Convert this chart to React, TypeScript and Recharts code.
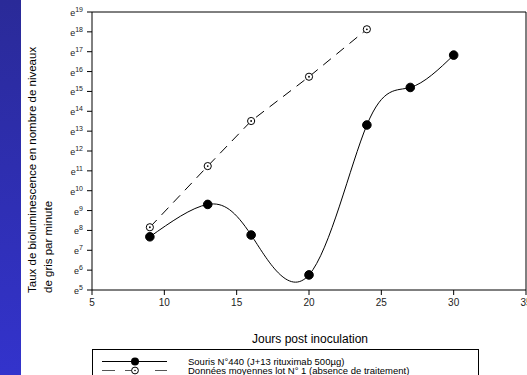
import React from 'react';
import {
  LineChart,
  Line,
  XAxis,
  YAxis,
  ReferenceLine,
} from 'recharts';

// days post inoculation
const days440 = [9, 13, 16, 20, 24, 27, 30];
// ln of bioluminescence rate (e^n)
const souris440 = [7.68, 9.31, 7.77, 5.76, 13.31, 15.2, 16.83];

const daysLot1 = [9, 13, 16, 20, 24];
const lot1 = [8.16, 11.24, 13.51, 15.74, 18.13];

const xTicks = [5, 10, 15, 20, 25, 30, 35];
const yTicks = [5, 6, 7, 8, 9, 10, 11, 12, 13, 14, 15, 16, 17, 18, 19];

const seriesNames = [
  'Souris N°440 (J+13 rituximab 500µg)',
  'Données moyennes lot N° 1 (absence de traitement)',
];

const FONT = '"Liberation Sans", Arial, sans-serif';

const ExpTick = (props: any) => {
  const { x, y, payload } = props;
  return (
    <text x={x} y={y} dy={4} textAnchor="end" fontFamily={FONT} fontSize={9} fill="#222">
      <tspan>e</tspan>
      <tspan dy={-4} fontSize={7}>{payload.value}</tspan>
    </text>
  );
};

const OpenDot = (props: any) => {
  const { cx, cy } = props;
  if (cx == null || cy == null) return null;
  return (
    <g>
      <circle cx={cx} cy={cy} r={3.6} fill="#fff" stroke="#000" strokeWidth={1} />
      <circle cx={cx} cy={cy} r={0.9} fill="#000" />
    </g>
  );
};

export default function App() {
  const data1 = days440.map((d, i) => ({ day: d, v: souris440[i] }));
  const data2 = daysLot1.map((d, i) => ({ day: d, v: lot1[i] }));

  return (
    <div
      style={{
        position: 'absolute',
        left: 0,
        top: 0,
        width: 527,
        height: 375,
        background: '#fff',
        overflow: 'hidden',
        fontFamily: FONT,
      }}
    >
      {/* blue slide strip */}
      <div
        style={{
          position: 'absolute',
          left: 0,
          top: 0,
          width: 21,
          height: 375,
          background: 'linear-gradient(to bottom, #2a2a98, #3333cc)',
        }}
      />
      {/* y axis title */}
      <svg width={70} height={375} style={{ position: 'absolute', left: 0, top: 0 }}>
        <text
          transform="translate(36,293) rotate(-90)"
          fontFamily={FONT}
          fontSize={11.5}
          fill="#000"
        >
          Taux de bioluminescence en nombre de niveaux
        </text>
        <text
          transform="translate(52,293) rotate(-90)"
          fontFamily={FONT}
          fontSize={11.5}
          fill="#000"
        >
          de gris par minute
        </text>
      </svg>

      <div style={{ position: 'absolute', left: 0, top: 0 }}>
        <LineChart
          width={545}
          height={375}
          margin={{ top: 12, right: 19, bottom: 55, left: 0 }}
        >
          <XAxis
            dataKey="day"
            type="number"
            domain={[5, 35]}
            ticks={xTicks}
            allowDataOverflow
            height={30}
            stroke="#000"
            tickSize={5}
            tickMargin={4}
            interval={0}
            tick={{ fontSize: 10, fill: '#222', fontFamily: FONT }}
            allowDuplicatedCategory={false}
          />
          <YAxis
            type="number"
            domain={[5, 19]}
            ticks={yTicks}
            width={92}
            stroke="#000"
            tickSize={5}
            tickMargin={4}
            tick={<ExpTick />}
            interval={0}
          />
          <ReferenceLine y={19} stroke="#000" strokeWidth={1} />
          <ReferenceLine x={35} stroke="#000" strokeWidth={1} />
          <Line
            data={data2}
            dataKey="v"
            type="linear"
            stroke="#000"
            strokeWidth={1}
            strokeDasharray="10 7"
            dot={<OpenDot />}
            isAnimationActive={false}
          />
          <Line
            data={data1}
            dataKey="v"
            type="natural"
            stroke="#000"
            strokeWidth={1}
            dot={{ r: 4.3, fill: '#000', stroke: '#000' }}
            isAnimationActive={false}
          />
        </LineChart>
      </div>

      {/* x axis title */}
      <div
        style={{
          position: 'absolute',
          left: 210,
          width: 200,
          top: 332,
          textAlign: 'center',
          fontSize: 12,
          color: '#000',
        }}
      >
        Jours post inoculation
      </div>

      {/* legend */}
      <svg width={527} height={375} style={{ position: 'absolute', left: 0, top: 0 }}>
        <rect x={92.5} y={349.5} width={386} height={40} fill="none" stroke="#000" strokeWidth={1} />
        <line x1={102} y1={361.5} x2={167} y2={361.5} stroke="#000" strokeWidth={1} />
        <circle cx={135} cy={361.5} r={4} fill="#000" />
        <line x1={102} y1={370.5} x2={167} y2={370.5} stroke="#555" strokeWidth={1} strokeDasharray="13 10 10 20 12" />
        <circle cx={135} cy={370.5} r={3.4} fill="#fff" stroke="#000" strokeWidth={1} />
        <circle cx={135} cy={370.5} r={0.8} fill="#000" />
        <text x={188} y={364.5} fontFamily={FONT} fontSize={9.5} fill="#000">
          {seriesNames[0]}
        </text>
        <text x={188} y={374} fontFamily={FONT} fontSize={9.5} fill="#000">
          {seriesNames[1]}
        </text>
      </svg>
    </div>
  );
}
